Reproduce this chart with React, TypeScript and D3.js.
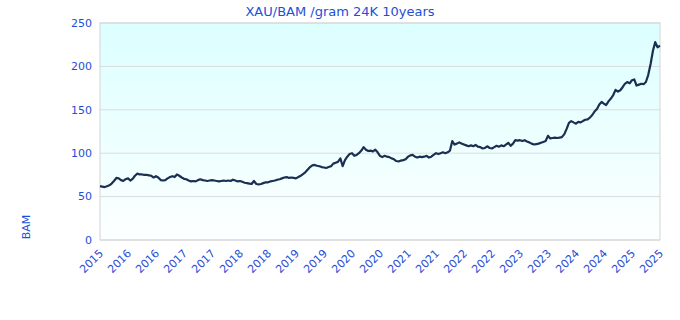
import * as d3 from "d3";

// XAU/BAM price per gram, one reading every half month from mid-Nov 2015
const startDate = new Date(2015, 10, 13);
const prices = [
  62, 61.5, 61, 62, 63, 65, 68, 71.5, 71, 69, 68, 70, 71, 68.5, 70.5, 74, 76.5, 75.5, 75.5, 75,
  75, 74.5, 74, 72, 73.5, 72, 69, 68.5, 69, 71, 72.5, 73.5, 72.5, 75.5, 74, 72, 70.5, 70, 68.5, 67.5,
  68, 67.5, 69, 70, 69, 68.5, 68, 68.5, 69, 68.5, 68, 67.5, 68, 68.5, 68, 68.5, 68, 69.5, 68.5, 67.5,
  68, 67, 66, 65.5, 65, 64.5, 68, 64.5, 64, 64.5, 65.5, 66.5, 66.5, 67.5, 68, 68.5, 69.5, 70, 71, 72,
  72.5, 71.5, 72, 71.5, 71, 72.5, 74, 76, 78, 81, 84, 86, 86.5, 85.5, 85, 84, 83.5, 83, 84, 85,
  88, 89, 90, 94, 85, 92, 96, 99, 100, 97, 98, 100, 103, 107, 104, 102.5, 103, 102, 104, 101,
  97, 95.5, 97, 96, 95.5, 94, 93, 91, 90.5, 91.5, 92, 93, 96, 97.5, 98, 96, 95, 96, 95.5, 96,
  97, 95, 96, 98, 100, 99, 100, 101, 100, 101, 103, 114, 110, 111, 112.5, 111, 110, 109, 108, 109,
  108, 109.5, 107.5, 107, 105.5, 106, 108, 106, 105.5, 107, 108.5, 107.5, 109, 108, 110, 112, 108.5, 111, 115, 114.5,
  115, 114, 115, 113.5, 112.5, 111, 110, 110.5, 111, 112, 113, 114, 120, 117, 117.5, 118, 117.5, 118, 118.5, 122,
  128, 135, 137, 135.5, 134, 136, 135.5, 137, 138.5, 139, 141, 144, 148, 151, 156, 159, 157, 155.5, 160, 163,
  167, 173, 171, 172.5, 176, 180, 182, 180.5, 184, 185, 178, 179, 180, 179.5, 182, 190, 203, 218, 228, 222,
  224,
];
const yTicks = [0, 50, 100, 150, 200, 250];
const xTickLabels = [
  "2015", "2016", "2016", "2017", "2017", "2018", "2018", "2019", "2019", "2020", "2020",
  "2021", "2021", "2022", "2022", "2023", "2023", "2024", "2024", "2025", "2025",
];

const W = 680;
const H = 320;
const left = 100;
const right = 660;
const top = 23;
const bottom = 240;
const blue = "#1d4fd8";

const App = () => {
  const endDate = d3.timeMonth.offset(startDate, 120);
  const data = prices.map((v, i) => ({ date: d3.timeDay.offset(startDate, Math.round((i * 365.25) / 24)), v }));

  const x = d3.scaleTime().domain([startDate, endDate]).range([left, right]);
  const y = d3.scaleLinear().domain([0, 250]).range([bottom, top]);
  // half-year tick positions, evenly spread over the plot width
  const xt = d3.scaleLinear().domain([0, xTickLabels.length - 1]).range([left, right]);

  const line = d3
    .line<{ date: Date; v: number }>()
    .x((d) => x(d.date))
    .y((d) => y(d.v));

  return (
    <svg width={W} height={H} style={{ position: "absolute", left: 0, top: 0 }} fontFamily="DejaVu Sans">
      <defs>
        <linearGradient id="bg" x1="0" y1="0" x2="0" y2="1">
          <stop offset="0" stopColor="#dcffff" />
          <stop offset="1" stopColor="#fdffff" />
        </linearGradient>
      </defs>
      <rect x={0} y={0} width={W} height={H} fill="#fff" />
      <rect x={left} y={top} width={right - left} height={bottom - top} fill="url(#bg)" />
      {/* grid */}
      {yTicks.map((t) => (
        <line key={t} x1={left} x2={right} y1={y(t)} y2={y(t)} stroke="#dcdcdc" strokeWidth={1} />
      ))}
      <rect x={left} y={top} width={right - left} height={bottom - top} fill="none" stroke="#d4d4d4" />
      {/* y labels */}
      {yTicks.map((t) => (
        <text key={t} x={92} y={y(t)} dy="0.35em" textAnchor="end" fontSize={11} fill={blue}>
          {t}
        </text>
      ))}
      <text transform="translate(30,227) rotate(-90)" textAnchor="middle" fontSize={11} fill={blue}>
        BAM
      </text>
      {/* x labels, slanted */}
      {xTickLabels.map((l, i) => (
        <text
          key={i}
          transform={`translate(${xt(i) + 4},254) rotate(-45)`}
          textAnchor="end"
          fontSize={11}
          fill={blue}
        >
          {l}
        </text>
      ))}
      <text x={340} y={16} textAnchor="middle" fontSize={13} fill={blue}>
        XAU/BAM /gram 24K 10years
      </text>
      <path d={line(data) ?? ""} fill="none" stroke="#1b2f52" strokeWidth={2.2} strokeLinejoin="round" />
    </svg>
  );
};

export default App;
